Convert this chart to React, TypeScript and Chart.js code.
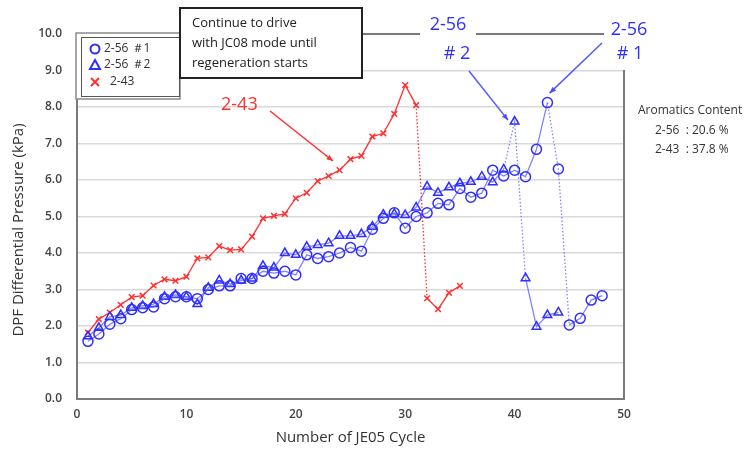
import React, { useEffect, useRef } from "react";
import { Chart, registerables } from "chart.js";

Chart.register(...registerables);

// ---- data ----
const cycles243 = [1, 2, 3, 4, 5, 6, 7, 8, 9, 10, 11, 12, 13, 14, 15, 16, 17, 18, 19, 20, 21, 22, 23, 24, 25, 26, 27, 28, 29, 30, 31, 32, 33, 34, 35];
const values243 = [1.82, 2.19, 2.37, 2.58, 2.79, 2.83, 3.11, 3.28, 3.24, 3.35, 3.85, 3.88, 4.19, 4.08, 4.1, 4.45, 4.95, 5.02, 5.07, 5.5, 5.65, 5.97, 6.11, 6.27, 6.57, 6.66, 7.19, 7.28, 7.81, 8.6, 8.05, 2.76, 2.46, 2.91, 3.1];

const cycles256n1 = [1, 2, 3, 4, 5, 6, 7, 8, 9, 10, 11, 12, 13, 14, 15, 16, 17, 18, 19, 20, 21, 22, 23, 24, 25, 26, 27, 28, 29, 30, 31, 32, 33, 34, 35, 36, 37, 38, 39, 40, 41, 42, 43, 44, 45, 46, 47, 48];
const values256n1 = [1.58, 1.78, 2.05, 2.2, 2.45, 2.5, 2.52, 2.75, 2.8, 2.8, 2.75, 3.0, 3.1, 3.1, 3.3, 3.3, 3.5, 3.45, 3.5, 3.4, 3.95, 3.85, 3.9, 4.0, 4.15, 4.05, 4.65, 4.95, 5.1, 4.68, 5.0, 5.1, 5.36, 5.32, 5.77, 5.53, 5.64, 6.27, 6.11, 6.27, 6.09, 6.84, 8.12, 6.3, 2.03, 2.21, 2.71, 2.83];

const cycles256n2 = [1, 2, 3, 4, 5, 6, 7, 8, 9, 10, 11, 12, 13, 14, 15, 16, 17, 18, 19, 20, 21, 22, 23, 24, 25, 26, 27, 28, 29, 30, 31, 32, 33, 34, 35, 36, 37, 38, 39, 40, 41, 42, 43, 44];
const values256n2 = [1.72, 1.95, 2.25, 2.3, 2.5, 2.55, 2.6, 2.8, 2.85, 2.8, 2.6, 3.05, 3.25, 3.15, 3.25, 3.3, 3.65, 3.6, 4.0, 3.95, 4.17, 4.22, 4.27, 4.47, 4.47, 4.52, 4.72, 5.05, 5.07, 5.04, 5.25, 5.82, 5.65, 5.8, 5.91, 5.95, 6.09, 5.94, 6.29, 7.6, 3.31, 1.98, 2.3, 2.37];

// cycles where a dotted (regeneration drop) segment starts
const dottedFrom243 = [31];
const dottedFrom256n1 = [43, 44];
const dottedFrom256n2 = [39, 40];

const yTicks = [0, 1, 2, 3, 4, 5, 6, 7, 8, 9, 10];
const xTicks = [0, 10, 20, 30, 40, 50];

const yTitle = "DPF Differential Pressure (kPa)";
const xTitle = "Number of JE05 Cycle";
const legendLabels = ["2-56 ＃1", "2-56 ＃2", "2-43"];
const noteLines = ["Continue to drive", "with JC08 mode until", "regeneration starts"];
const aromaticsLines = ["Aromatics Content", "2-56  : 20.6 %", "2-43  : 37.8 %"];

const RED = "#ff3030";
const BLUE = "#2e2eff";
const BLUE_LINE = "rgba(90,90,255,0.75)";
const FONT = "'Open Sans', 'Noto Sans', sans-serif";

const toPts = (xs: number[], ys: number[]) => xs.map((c, i) => ({ x: c, y: ys[i] }));

function arrow(ctx: CanvasRenderingContext2D, x1: number, y1: number, x2: number, y2: number, color: string) {
  ctx.strokeStyle = color;
  ctx.fillStyle = color;
  ctx.lineWidth = 1.5;
  ctx.beginPath();
  ctx.moveTo(x1, y1);
  ctx.lineTo(x2, y2);
  ctx.stroke();
  const ang = Math.atan2(y2 - y1, x2 - x1);
  const L = 7;
  ctx.beginPath();
  ctx.moveTo(x2, y2);
  ctx.lineTo(x2 - L * Math.cos(ang - 0.4), y2 - L * Math.sin(ang - 0.4));
  ctx.lineTo(x2 - L * Math.cos(ang + 0.4), y2 - L * Math.sin(ang + 0.4));
  ctx.closePath();
  ctx.fill();
}

const annotPlugin = {
  id: "annot",
  afterDraw(chart: any) {
    const { ctx, chartArea: a, scales } = chart;
    const xs = scales.x;
    const ys = scales.y;
    ctx.save();

    // plot frame top/right
    ctx.strokeStyle = "#7a7a7a";
    ctx.lineWidth = 2;
    ctx.beginPath();
    ctx.moveTo(a.left, a.top);
    ctx.lineTo(a.right, a.top);
    ctx.lineTo(a.right, a.bottom);
    ctx.stroke();

    // y axis title
    ctx.save();
    ctx.translate(19, 230);
    ctx.rotate(-Math.PI / 2);
    ctx.fillStyle = "#333";
    ctx.font = `15px ${FONT}`;
    ctx.textAlign = "center";
    ctx.textBaseline = "middle";
    ctx.fillText(yTitle, 0, 0);
    ctx.restore();

    // legend box
    ctx.fillStyle = "#fff";
    ctx.strokeStyle = "#8a8a8a";
    ctx.lineWidth = 1.5;
    ctx.fillRect(76, 33, 104, 66);
    ctx.strokeRect(76, 33, 104, 66);
    ctx.strokeStyle = "#555";
    ctx.lineWidth = 1;
    ctx.strokeRect(81.5, 37.5, 98, 59);
    ctx.font = `12px ${FONT}`;
    ctx.textBaseline = "middle";
    ctx.textAlign = "left";
    const rows = [49, 65, 82];
    ctx.strokeStyle = BLUE;
    ctx.lineWidth = 2;
    ctx.beginPath();
    ctx.arc(95, rows[0], 4.5, 0, Math.PI * 2);
    ctx.stroke();
    ctx.beginPath();
    ctx.moveTo(95, rows[1] - 5);
    ctx.lineTo(100, rows[1] + 4);
    ctx.lineTo(90, rows[1] + 4);
    ctx.closePath();
    ctx.stroke();
    ctx.strokeStyle = RED;
    ctx.beginPath();
    ctx.moveTo(91, rows[2] - 4);
    ctx.lineTo(99, rows[2] + 4);
    ctx.moveTo(99, rows[2] - 4);
    ctx.lineTo(91, rows[2] + 4);
    ctx.stroke();
    ctx.fillStyle = "#333";
    ctx.fillText(legendLabels[0], 104, rows[0]);
    ctx.fillText(legendLabels[1], 104, rows[1]);
    ctx.fillText(legendLabels[2], 110, rows[2]);

    // note box
    ctx.fillStyle = "#fff";
    ctx.fillRect(180, 8, 182, 70);
    ctx.strokeStyle = "#222";
    ctx.lineWidth = 2;
    ctx.strokeRect(180, 8, 182, 70);
    ctx.fillStyle = "#222";
    ctx.font = `13px ${FONT}`;
    noteLines.forEach((t, i) => ctx.fillText(t, 192, 23 + i * 20));

    // label backgrounds for 2-56 labels
    ctx.fillStyle = "#fff";
    ctx.fillRect(420, 10, 56, 58);
    ctx.fillRect(604, 12, 50, 58);

    // 2-43 label
    ctx.fillStyle = RED;
    ctx.font = `18px ${FONT}`;
    ctx.textAlign = "left";
    ctx.fillText("2-43", 221, 105);
    arrow(ctx, 270, 111, xs.getPixelForValue(23.4), ys.getPixelForValue(6.52), RED);

    // 2-56 #2
    ctx.fillStyle = BLUE;
    ctx.textAlign = "center";
    ctx.fillText("2-56", 448, 25);
    ctx.fillText("# 2", 457, 54);
    arrow(ctx, 469, 71, xs.getPixelForValue(39.4), ys.getPixelForValue(7.64), "rgba(70,70,255,0.9)");

    // 2-56 #1
    ctx.fillStyle = BLUE;
    ctx.fillText("2-56", 629, 30);
    ctx.fillText("# 1", 630, 54);
    arrow(ctx, 602, 43, xs.getPixelForValue(43.2), ys.getPixelForValue(8.38), "rgba(70,70,255,0.9)");

    // aromatics content
    ctx.fillStyle = "#333";
    ctx.font = `12px ${FONT}`;
    ctx.textAlign = "left";
    ctx.fillText(aromaticsLines[0], 638, 111);
    ctx.fillText(aromaticsLines[1], 655, 131);
    ctx.fillText(aromaticsLines[2], 655, 150);

    ctx.restore();
  },
};

const segDash = (list: number[], xsArr: number[]) => (c: any) =>
  list.includes(xsArr[c.p0DataIndex]) ? [1.5, 2] : undefined;

export default function App() {
  const ref = useRef<HTMLCanvasElement>(null);
  useEffect(() => {
    if (!ref.current) return;
    const chart = new Chart(ref.current, {
      type: "line",
      data: {
        datasets: [
          {
            label: "2-56 #1",
            data: toPts(cycles256n1, values256n1),
            borderColor: BLUE_LINE,
            borderWidth: 1.3,
            pointStyle: "circle",
            pointRadius: 5,
            pointBorderWidth: 1.5,
            pointBorderColor: BLUE,
            pointBackgroundColor: "rgba(255,255,255,0)",
            segment: { borderDash: segDash(dottedFrom256n1, cycles256n1) },
          },
          {
            label: "2-56 #2",
            data: toPts(cycles256n2, values256n2),
            borderColor: BLUE_LINE,
            borderWidth: 1.3,
            pointStyle: "triangle",
            pointRadius: 5,
            pointBorderWidth: 1.5,
            pointBorderColor: BLUE,
            pointBackgroundColor: "rgba(255,255,255,0)",
            segment: { borderDash: segDash(dottedFrom256n2, cycles256n2) },
          },
          {
            label: "2-43",
            data: toPts(cycles243, values243),
            borderColor: RED,
            borderWidth: 1.3,
            pointStyle: "crossRot",
            pointRadius: 4,
            pointBorderWidth: 1.5,
            pointBorderColor: RED,
            segment: { borderDash: segDash(dottedFrom243, cycles243) },
          },
        ] as any,
      },
      options: {
        animation: false,
        responsive: false,
        layout: { padding: { top: 34, right: 131, left: 0, bottom: 0 } },
        plugins: { legend: { display: false }, tooltip: { enabled: false } },
        scales: {
          x: {
            type: "linear",
            min: 0,
            max: 50,
            afterBuildTicks: (s: any) => {
              s.ticks = xTicks.map((v) => ({ value: v }));
            },
            afterFit: (s: any) => {
              s.height = 53;
            },
            grid: { display: false, drawTicks: false },
            border: { display: true, color: "#7a7a7a", width: 2 },
            ticks: { padding: 8, color: "#444", font: { family: FONT, size: 12, weight: "600" } },
            title: {
              display: true,
              text: xTitle,
              color: "#333",
              font: { family: FONT, size: 15 },
              padding: { top: 0, bottom: 5 },
            },
          },
          y: {
            min: 0,
            max: 10,
            afterBuildTicks: (s: any) => {
              s.ticks = yTicks.map((v) => ({ value: v }));
            },
            afterFit: (s: any) => {
              s.width = 77;
            },
            grid: { color: "#d9d9d9", lineWidth: 1.5, drawTicks: false },
            border: { display: true, color: "#7a7a7a", width: 2 },
            ticks: {
              padding: 15,
              color: "#444",
              font: { family: FONT, size: 12, weight: "600" },
              callback: (v: any) => Number(v).toFixed(1),
            },
            title: { display: false },
          },
        },
      } as any,
      plugins: [annotPlugin],
    });
    return () => chart.destroy();
  }, []);
  return (
    <div style={{ position: "fixed", left: 0, top: 0, width: 755, height: 452, background: "#fff" }}>
      <canvas ref={ref} width={755} height={452} style={{ display: "block", width: 755, height: 452 }} />
    </div>
  );
}
